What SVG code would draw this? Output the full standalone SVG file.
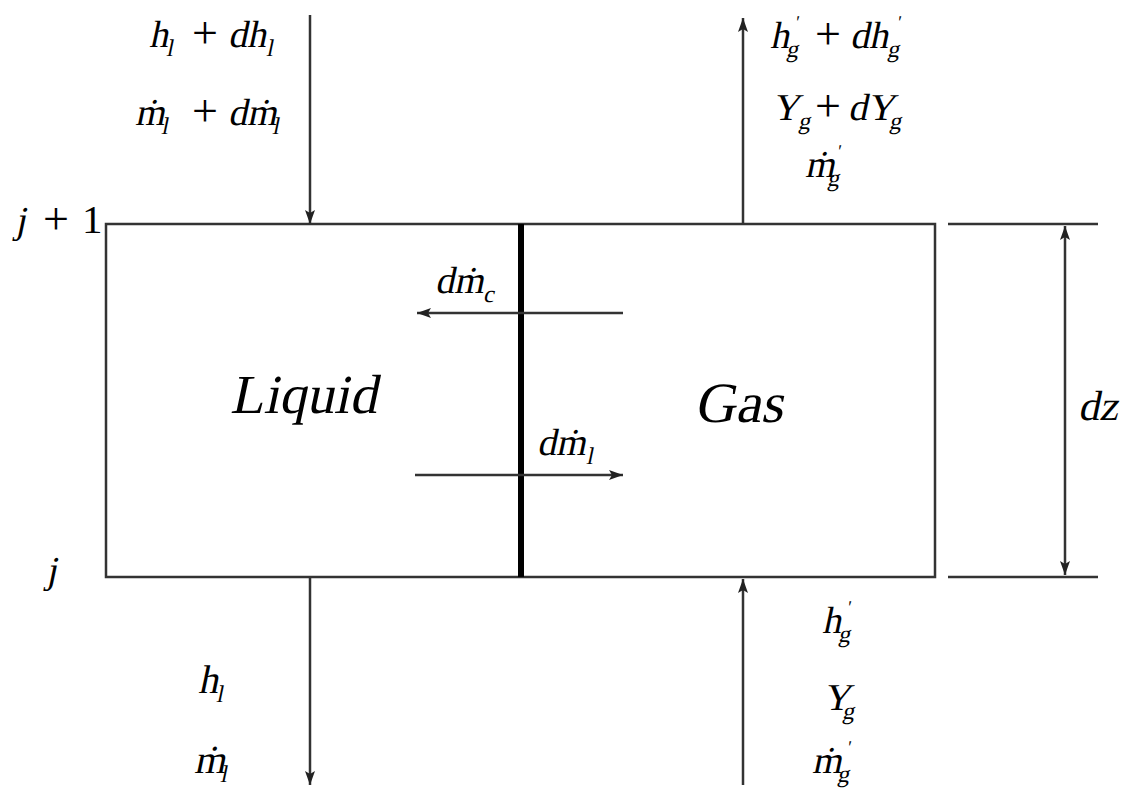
<svg xmlns="http://www.w3.org/2000/svg" width="1130" height="793" viewBox="0 0 1130 793">
<style>
.ln{stroke:#333;stroke-width:2.5;fill:none}
.ar{marker-end:url(#ah)}
.t{font-size:38px;fill:#000}
.s{font-size:24px}
.p{font-size:18px}
.pl{font-size:46px}
.big{font-size:55px}
</style>
<defs>
<marker id="ah" viewBox="0 0 14 10" refX="14" refY="5" markerWidth="14" markerHeight="10" markerUnits="userSpaceOnUse" orient="auto-start-reverse">
<path d="M0,0 L14,5 L0,10 L3,5 Z" fill="#222"/>
</marker>
</defs>
<rect id="bg" x="0" y="0" width="1130" height="793" fill="#fff"/>
<g id="control-volume">
<rect class="ln" x="106" y="224" width="829" height="353"/>
</g>
<g id="interface">
<line x1="521" y1="224" x2="521" y2="577" stroke="#000" stroke-width="6"/>
</g>
<g id="connectors">
<line class="ln ar" x1="310" y1="15" x2="310" y2="224"/>
<line class="ln ar" x1="743" y1="224" x2="743" y2="18"/>
<line class="ln ar" x1="310" y1="577" x2="310" y2="785"/>
<line class="ln ar" x1="743" y1="785" x2="743" y2="579"/>
<line class="ln ar" x1="623" y1="313" x2="417" y2="313"/>
<line class="ln ar" x1="415" y1="475" x2="623" y2="475"/>
<line class="ln" x1="948" y1="224" x2="1098" y2="224"/>
<line class="ln" x1="948" y1="577" x2="1098" y2="577"/>
<line class="ln" x1="1065" y1="226" x2="1065" y2="575" marker-start="url(#ah)" marker-end="url(#ah)"/>
</g>
<g id="top-left-labels" class="t" style="font-family:'Liberation Serif',serif;font-style:normal">
<text transform="translate(149 47) skewX(-12)">h<tspan class="s" x="19" y="9">l</tspan></text>
<text class="pl" x="192" y="48">+</text>
<text transform="translate(228 47) skewX(-12)">dh<tspan class="s" x="40" y="9">l</tspan></text>
<text transform="translate(135 125) skewX(-12)">ṁ<tspan class="s" x="28" y="9">l</tspan></text>
<text class="pl" x="192" y="126">+</text>
<text transform="translate(228 125) skewX(-12)">dṁ<tspan class="s" x="46" y="9">l</tspan></text>
</g>
<g id="top-right-labels" class="t" style="font-family:'Liberation Serif',serif;font-style:normal">
<text transform="translate(770 48) skewX(-12)">h<tspan class="p" x="20" y="-20">'</tspan><tspan class="s" x="18" y="9">g</tspan></text>
<text class="pl" x="815" y="49">+</text>
<text transform="translate(850 48) skewX(-12)">dh<tspan class="p" x="42" y="-20">'</tspan><tspan class="s" x="39" y="9">g</tspan></text>
<text transform="translate(772 120) skewX(-12)">Y<tspan class="s" x="28" y="9">g</tspan></text>
<text class="pl" x="815" y="121">+</text>
<text transform="translate(848 120) skewX(-12)">dY<tspan class="s" x="43" y="9">g</tspan></text>
<text transform="translate(805 177) skewX(-12)">ṁ<tspan class="p" x="27" y="-20">'</tspan><tspan class="s" x="24" y="9">g</tspan></text>
</g>
<g id="level-labels" class="t" style="font-family:'Liberation Serif',serif;font-style:normal">
<text transform="translate(15 233) skewX(-12)">j</text>
<text class="pl" x="43" y="234">+</text>
<text x="82" y="233" style="font-size:41px">1</text>
<text transform="translate(46 583) skewX(-12)">j</text>
</g>
<g id="liquid" class="t" style="font-family:'Liberation Serif',serif;font-style:normal">
<text class="big" transform="translate(230 413) skewX(-12)">Liquid</text>
</g>
<g id="gas" class="t" style="font-family:'Liberation Serif',serif;font-style:normal">
<text transform="translate(694 422) skewX(-12)" style="font-size:57px">Gas</text>
</g>
<g id="flux-labels" class="t" style="font-family:'Liberation Serif',serif;font-style:normal">
<text transform="translate(435 293) skewX(-12)">dṁ<tspan class="s" x="50" y="9">c</tspan></text>
<text transform="translate(537 455) skewX(-12)">dṁ<tspan class="s" x="51" y="9">l</tspan></text>
</g>
<g id="dz-label" class="t" style="font-family:'Liberation Serif',serif;font-style:normal">
<text transform="translate(1078 420) skewX(-12)" style="font-size:42px">dz</text>
</g>
<g id="bottom-left-labels" class="t" style="font-family:'Liberation Serif',serif;font-style:normal;font-size:40px">
<text transform="translate(198 693) skewX(-12)">h<tspan class="s" x="20" y="9">l</tspan></text>
<text transform="translate(194 773) skewX(-12)">ṁ<tspan class="s" x="28" y="9">l</tspan></text>
</g>
<g id="bottom-right-labels" class="t" style="font-family:'Liberation Serif',serif;font-style:normal">
<text transform="translate(822 633) skewX(-12)">h<tspan class="p" x="20" y="-20">'</tspan><tspan class="s" x="18" y="9">g</tspan></text>
<text transform="translate(823 710) skewX(-12)">Y<tspan class="s" x="21" y="9">g</tspan></text>
<text transform="translate(812 773) skewX(-12)">ṁ<tspan class="p" x="30" y="-20">'</tspan><tspan class="s" x="27" y="9">g</tspan></text>
</g>
</svg>
